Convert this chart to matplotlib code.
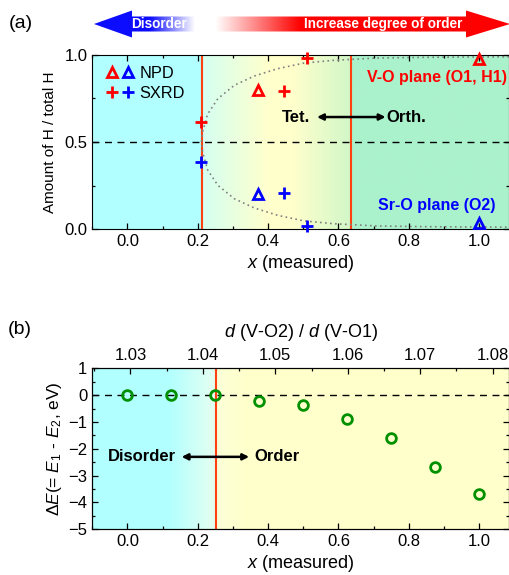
import numpy as np
import matplotlib
matplotlib.use("Agg")
from matplotlib import pyplot as plt
from matplotlib.colors import to_rgb
from matplotlib.patches import Polygon
from matplotlib.legend_handler import HandlerTuple
from matplotlib.ticker import MultipleLocator

plt.rcParams['font.family'] = ['Liberation Sans', 'DejaVu Sans']
plt.rcParams['mathtext.fontset'] = 'custom'
plt.rcParams['mathtext.rm'] = 'Liberation Sans'
plt.rcParams['mathtext.it'] = 'Liberation Sans:italic'
plt.rcParams['font.size'] = 12
plt.rcParams['xtick.labelsize'] = 12
plt.rcParams['ytick.labelsize'] = 12

# ---- panel (a) data ----
npd_x = [0.37, 1.0]
npd_vo = [0.80, 0.975]
npd_sro = [0.20, 0.035]
sxrd_x = [0.21, 0.445, 0.51]
sxrd_vo = [0.615, 0.79, 0.98]
sxrd_sro = [0.385, 0.21, 0.02]
# dotted guide (upper branch)
guide_x = [0.21, 0.214, 0.228, 0.257, 0.304, 0.361, 0.427, 0.502, 0.587, 0.71, 0.85, 1.0, 1.085]
guide_y = [0.50, 0.56, 0.66, 0.748, 0.825, 0.878, 0.92, 0.952, 0.968, 0.981, 0.985, 0.987, 0.988]
trans_a = [0.211, 0.636]

# ---- panel (b) data ----
calc_x = [0.0, 0.125, 0.25, 0.375, 0.5, 0.625, 0.75, 0.875, 1.0]
calc_dE = [0.0, 0.0, 0.0, -0.22, -0.35, -0.88, -1.58, -2.68, -3.70]
trans_b = 0.252

XL = (-0.1, 1.085)
cyan = '#b2ffff'
yellow = '#ffffcc'
green = '#aaf2cc'


def gradient_bg(ax, stops, ylim):
    xs = np.linspace(XL[0], XL[1], 1200)
    pos = [s[0] for s in stops]
    cols = np.array([to_rgb(s[1]) for s in stops])
    rgb = np.stack([np.interp(xs, pos, cols[:, i]) for i in range(3)], -1)
    ax.imshow(rgb[None], extent=[XL[0], XL[1], ylim[0], ylim[1]], aspect='auto',
              zorder=0, interpolation='bilinear')


def style_ticks(ax):
    ax.tick_params(which='both', direction='in')
    ax.tick_params(which='major', length=4, width=0.9)
    ax.tick_params(which='minor', length=2.5, width=0.9)


fig = plt.figure(figsize=(5.09, 5.75), dpi=100)
W, H = 509, 575

# ================= panel (a) =================
axa = fig.add_axes([92.3 / W, 1 - 229.3 / H, 1 - 92.3 / W, (229.3 - 54.7) / H])
gradient_bg(axa, [(-0.1, cyan), (0.2105, cyan), (0.2115, '#d4fff2'), (0.40, yellow),
                  (0.47, yellow), (0.635, '#d2f7c8'), (0.637, green), (1.1, green)], (0, 1))
axa.axhline(0.5, color='k', ls=(0, (5, 4)), lw=1, zorder=1)
for xv in trans_a:
    axa.axvline(xv, color='#ff4010', lw=1.5, zorder=2)
gx = np.array(guide_x)
gy = np.array(guide_y)
axa.plot(np.concatenate([gx[::-1], gx[1:]]), np.concatenate([gy[::-1], 1 - gy[1:]]),
         ls=(0, (1, 2)), color='#808080', lw=1.2, zorder=2)
mk = dict(ls='none', zorder=4, clip_on=False)
h1, = axa.plot(npd_x, npd_vo, marker='^', ms=6.5, mfc='none', mec='red', mew=2, **mk)
h2, = axa.plot(npd_x, npd_sro, marker='^', ms=6.5, mfc='none', mec='blue', mew=2, **mk)
h3, = axa.plot(sxrd_x, sxrd_vo, marker='+', ms=9, mec='red', mew=2, **mk)
h4, = axa.plot(sxrd_x, sxrd_sro, marker='+', ms=9, mec='blue', mew=2, **mk)
axa.legend([(h1, h2), (h3, h4)], ['NPD', 'SXRD'], handler_map={tuple: HandlerTuple(ndivide=None, pad=0.2)},
           loc='upper left', bbox_to_anchor=((106 - 92.3) / 416.7, 0.935), frameon=False,
           handlelength=1.7, handletextpad=0.35, labelspacing=0.3, fontsize=11.8,
           borderpad=0, borderaxespad=0)
axa.set_xlim(XL)
axa.set_ylim(0, 1)
axa.xaxis.set_major_locator(MultipleLocator(0.2))
axa.xaxis.set_minor_locator(MultipleLocator(0.1))
axa.yaxis.set_minor_locator(MultipleLocator(0.25))
axa.set_yticks([0, 0.5, 1.0])
axa.set_yticklabels(['0.0', '0.5', '1.0'])
style_ticks(axa)
axa.tick_params(which='both', top=True, right=True)
axa.set_xlabel(r'$x$ (measured)', labelpad=3, fontsize=13)
axa.set_ylabel('Amount of H / total H', labelpad=5, fontsize=11)

axa.text(0.879, 0.872, 'V-O plane (O1, H1)', color='red', fontweight='bold', ha='center', va='center', fontsize=11.5)
axa.text(0.879, 0.134, 'Sr-O plane (O2)', color='blue', fontweight='bold', ha='center', va='center', fontsize=11.5)
axa.text(0.48, 0.643, 'Tet.', fontweight='bold', ha='center', va='center', fontsize=12)
axa.text(0.794, 0.643, 'Orth.', fontweight='bold', ha='center', va='center', fontsize=12)
axa.annotate('', xy=(0.734, 0.643), xytext=(0.539, 0.643),
             arrowprops=dict(arrowstyle='<|-|>', color='k', lw=1.8, mutation_scale=9, shrinkA=0, shrinkB=0))

# ================= panel (b) =================
axb = fig.add_axes([92.3 / W, 1 - 529.3 / H, 1 - 92.3 / W, (529.3 - 368.3) / H])
gradient_bg(axb, [(-0.1, cyan), (0.12, cyan), (0.251, '#e6fff0'), (0.253, '#fbffd8'),
                  (0.33, yellow), (1.1, yellow)], (-5, 1))
axb.axhline(0, color='k', ls=(0, (5, 4)), lw=1, zorder=1)
axb.axvline(trans_b, color='#ff4010', lw=1.5, zorder=2)
axb.plot(calc_x, calc_dE, ls='none', marker='o', ms=7, mfc='none', mec='#009000', mew=2, zorder=4)
axb.set_xlim(XL)
axb.set_ylim(-5, 1)
axb.xaxis.set_minor_locator(MultipleLocator(0.1))
axb.yaxis.set_major_locator(MultipleLocator(1))
axb.yaxis.set_minor_locator(MultipleLocator(0.5))
axb.set_xticks([0, 0.2, 0.4, 0.6, 0.8, 1.0])
axb.set_xticklabels(['0.0', '0.2', '0.4', '0.6', '0.8', '1.0'])
style_ticks(axb)
axb.tick_params(which='both', right=True)
axb.set_xlabel(r'$x$ (measured)', labelpad=3, fontsize=13)
axb.set_ylabel(r'$\Delta E$(= $E_1$ - $E_2$, eV)', labelpad=3, fontsize=12.5)
axb.text(0.04, -2.3, 'Disorder', fontweight='bold', ha='center', va='center', fontsize=12)
axb.text(0.426, -2.3, 'Order', fontweight='bold', ha='center', va='center', fontsize=12)
axb.annotate('', xy=(0.346, -2.3), xytext=(0.154, -2.3),
             arrowprops=dict(arrowstyle='<|-|>', color='k', lw=1.8, mutation_scale=9, shrinkA=0, shrinkB=0))

# top axis: d ratio
d0 = 1.03 + (XL[0] - 0.0085) * 0.05 / 1.03
d1 = 1.03 + (XL[1] - 0.0085) * 0.05 / 1.03
axt = axb.twiny()
axt.set_xlim(d0, d1)
axt.xaxis.set_minor_locator(MultipleLocator(0.005))
axt.set_xticks([1.03, 1.04, 1.05, 1.06, 1.07, 1.08])
axt.set_xticklabels(['1.03', '1.04', '1.05', '1.06', '1.07', '1.08'])
style_ticks(axt)
axt.set_xlabel(r'$d$ (V-O2) / $d$ (V-O1)', labelpad=8, fontsize=13)

# ================= header arrows and panel letters =================
ov = fig.add_axes([0, 0, 1, 1], facecolor='none')
ov.set_xlim(0, W)
ov.set_ylim(H, 0)
ov.axis('off')
ov.set_zorder(-1)

cy = 24
sh = 7.5   # half shaft height
hh = 13.5  # half head height

blue_poly = Polygon([(94, cy), (132, cy - hh), (132, cy - sh), (200, cy - sh), (200, cy + sh),
                     (132, cy + sh), (132, cy + hh)], closed=True, fc='none', ec='none')
ov.add_patch(blue_poly)
xs = np.linspace(90, 200, 300)
img = np.zeros((1, xs.size, 4))
img[..., 0] = 0.05
img[..., 1] = 0.05
img[..., 2] = 1.0
img[..., 3] = np.clip((195 - xs) / 45, 0, 1)
im = ov.imshow(img, extent=[90, 200, cy + hh + 1, cy - hh - 1], aspect='auto', interpolation='bilinear')
im.set_clip_path(blue_poly)

red_poly = Polygon([(510, cy), (466, cy - hh), (466, cy - sh), (212, cy - sh), (212, cy + sh),
                    (466, cy + sh), (466, cy + hh)], closed=True, fc='none', ec='none')
ov.add_patch(red_poly)
xs = np.linspace(212, 512, 600)
img = np.zeros((1, xs.size, 4))
img[..., 0] = 1.0
img[..., 3] = np.clip((xs - 215) / 85, 0, 1)
im = ov.imshow(img, extent=[212, 512, cy + hh + 1, cy - hh - 1], aspect='auto', interpolation='bilinear')
im.set_clip_path(red_poly)
ov.set_xlim(0, W)
ov.set_ylim(H, 0)

ov.text(159, cy, 'Disorder', color='white', fontweight='bold', ha='center', va='center', fontsize=9.8)
ov.text(383, cy, 'Increase degree of order', color='white', fontweight='bold', ha='center', va='center', fontsize=9.8)
ov.text(9, 24, '(a)', fontsize=14, ha='left', va='center')
ov.text(8, 330, '(b)', fontsize=14, ha='left', va='center')

fig.savefig('out.png', dpi=100)
